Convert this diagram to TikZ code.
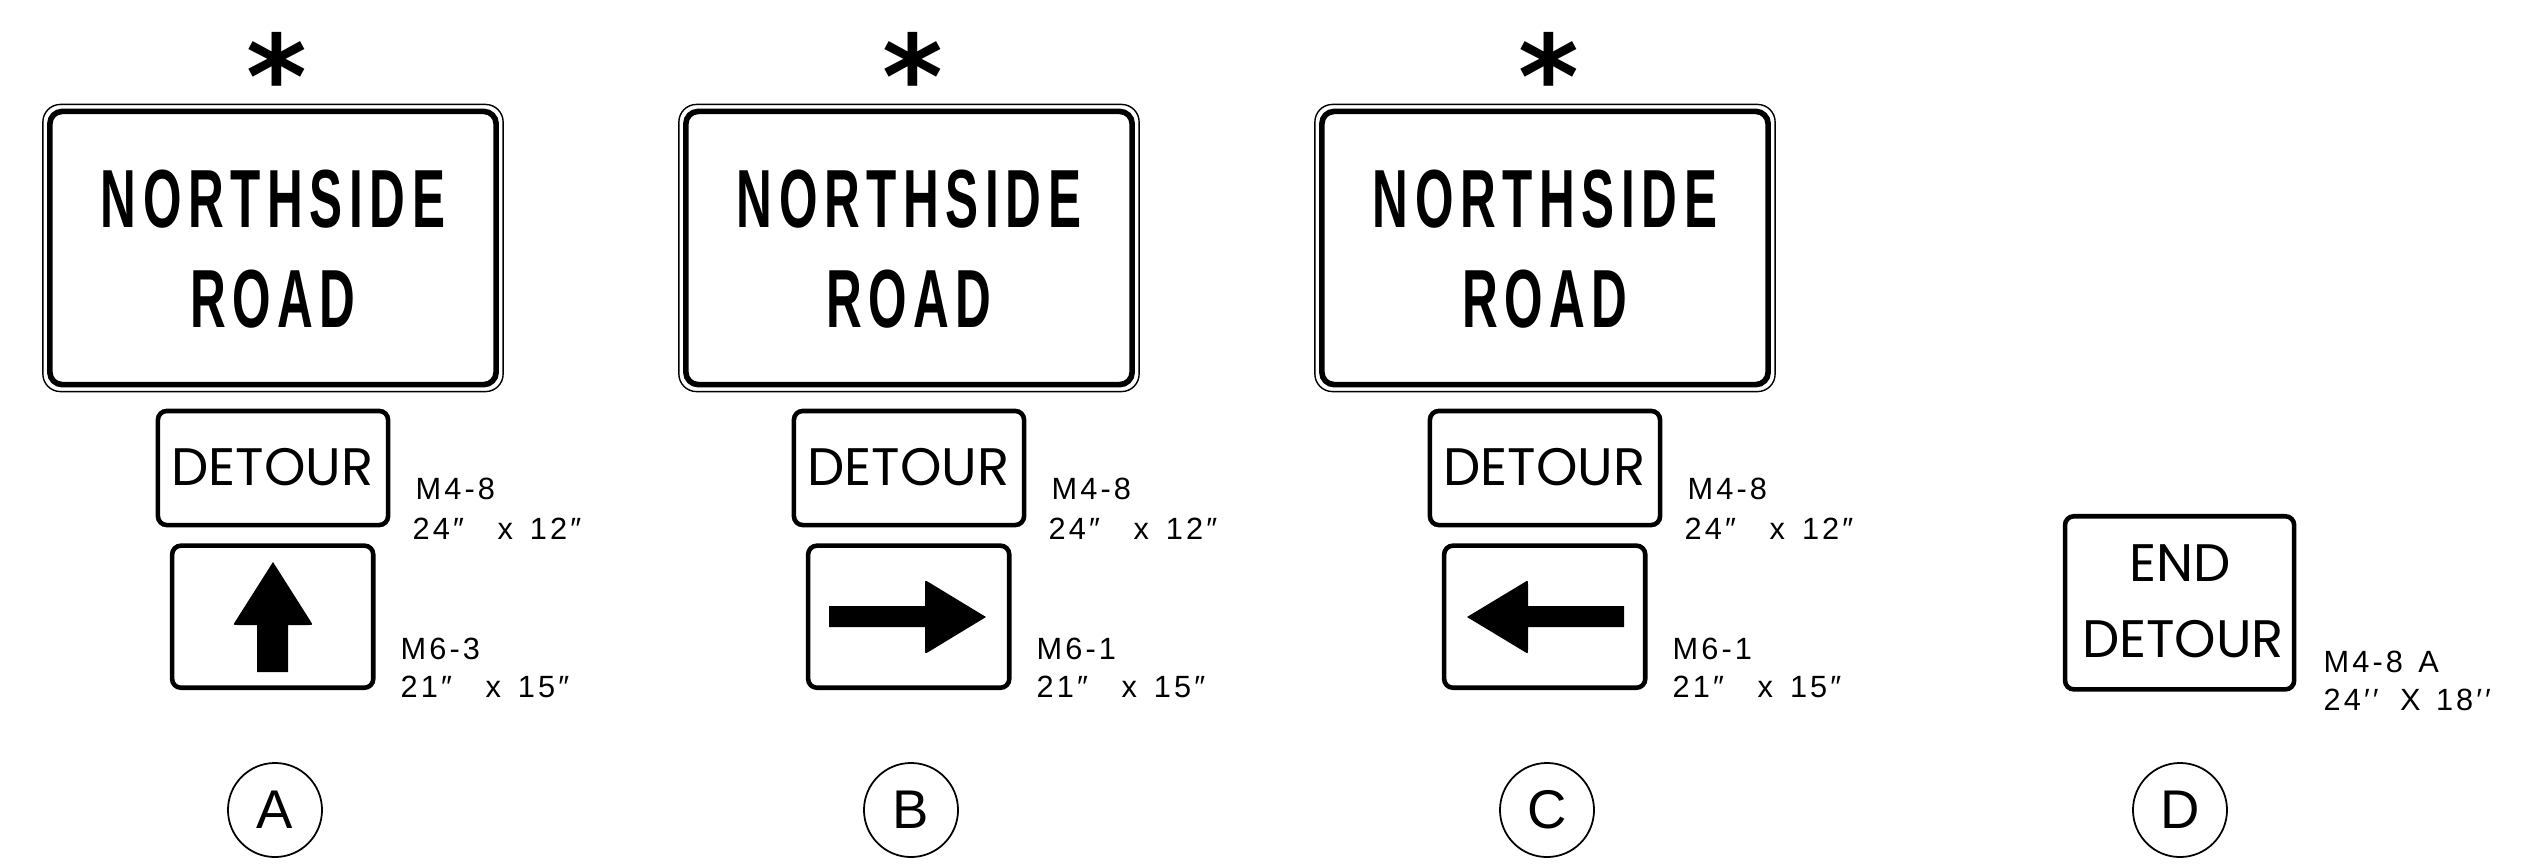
\documentclass[tikz,border=0pt]{standalone}
\usepackage{fontspec}
\setmainfont{Liberation Sans}
\newfontfamily\roadfont[FakeStretch=0.6, LetterSpace=8]{Liberation Sans}
\newfontfamily\detourfont{Poppins}
\newfontfamily\codefont[LetterSpace=10]{Liberation Sans}
\newfontfamily\starfont{DejaVu Sans}

\begin{document}
\begin{tikzpicture}[x=0.01cm, y=-0.01cm,
    bigsign/.style={draw, line width=1.6pt, rounded corners=3.5pt, outer sep=0pt,
                    minimum width=4.46cm, minimum height=2.73cm, inner sep=0pt},
    signbox/.style={draw, line width=1.3pt, rounded corners=2.5pt, outer sep=0pt, inner sep=0pt},
    bigtext/.style={anchor=base, inner sep=0pt, font={\fontsize{23.45}{28}\roadfont\bfseries}},
    detourtext/.style={anchor=base, inner sep=0pt, font={\fontsize{15}{18}\detourfont}},
    code/.style={anchor=base west, inner sep=0pt, font={\fontsize{8.74}{10}\codefont}},
    tag/.style={draw, circle, line width=0.5pt, minimum size=0.94cm, inner sep=0pt,
                font={\fontsize{15.5}{18}\selectfont}},
    star/.style={anchor=north, inner sep=0pt, font={\fontsize{33}{33}\starfont\bfseries}}]

  \useasboundingbox (0,0) rectangle (2547,866);

  % the three detour assemblies
  \foreach \col/\off/\mark in {A/0/M6-3, B/636/M6-1, C/1272/M6-1} {
    \node[star] (star\col) at (277+\off,32) {*};
    \node[bigsign] (road\col) at (273+\off,248) {};
    \draw[line width=0.4pt, rounded corners=5pt]
      ([shift={(-7,-7)}]road\col.north west) rectangle ([shift={(7,7)}]road\col.south east);
    \node[bigtext] (north\col) at (273+\off,227) {NORTHSIDE};
    \node[bigtext] (roadname\col) at (273+\off,327) {ROAD};
    \node[signbox, minimum width=2.30cm, minimum height=1.14cm] (detour\col) at (273+\off,468) {};
    \node[detourtext] (word\col) at (272.5+\off,485) {DETOUR};
    \node[signbox, minimum width=2.01cm, minimum height=1.42cm] (arrow\col) at (272.7+\off,616.7) {};
    \node[code] (m48\col) at (415+\off,499) {M4-8};
    \node[code] (m48size\col) at (412+\off,539) {24″\hspace{1.1em}x\hspace{0.55em}12″};
    \node[code] (m6\col) at (400+\off,659) {\mark};
    \node[code] (m6size\col) at (400+\off,697) {21″\hspace{1.1em}x\hspace{0.55em}15″};
    \node[tag] (tag\col) at (275+\off,810) {\col};
  }

  % arrows
  \fill (257,672) -- (257,625) -- (238,625) .. controls (233,625) .. (235.7,620.8)
    -- (273,562) -- (310.3,620.8) .. controls (313,625) .. (308,625)
    -- (288,625) -- (288,672) -- cycle;
  \fill (829,606) -- (925,606) -- (925,585) .. controls (925,580) .. (929.3,582.6)
    -- (986,617) -- (929.3,651.4) .. controls (925,654) .. (925,649)
    -- (925,627) -- (829,627) -- cycle;
  \fill (1624,606) -- (1528,606) -- (1528,585) .. controls (1528,580) .. (1524,582.6)
    -- (1467,617) -- (1524,651.4) .. controls (1528,654) .. (1528,649)
    -- (1528,627) -- (1624,627) -- cycle;

  % end detour
  \node[signbox, minimum width=2.29cm, minimum height=1.73cm] (endsign) at (2179.6,602.8) {};
  \node[detourtext] (endword) at (2180.5,581) {END};
  \node[detourtext] (endword2) at (2183,657) {DETOUR};
  \node[code] (m48a) at (2323,672) {M4-8\hspace{0.5em}A};
  \node[code] (m48asize) at (2323,710) {24′′\hspace{0.7em}X\hspace{0.5em}18′′};
  \node[tag] (tagD) at (2180,810) {D};
\end{tikzpicture}
\end{document}
